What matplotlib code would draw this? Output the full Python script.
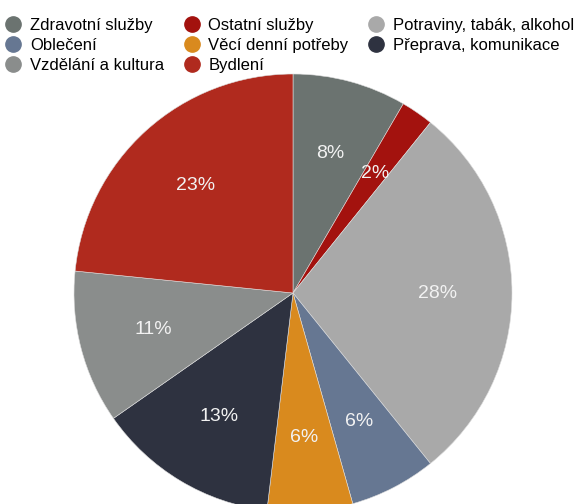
import matplotlib
matplotlib.use("Agg")
import matplotlib.pyplot as plt
from matplotlib.lines import Line2D

# ── Data (shares of household spending, %) ──────────────────────────────────
categories = [
    "Zdravotní služby", "Ostatní služby", "Potraviny, tabák, alkohol",
    "Oblečení", "Věcí denní potřeby", "Přeprava, komunikace",
    "Vzdělání a kultura", "Bydlení",
]
shares = [8.4, 2.4, 28.4, 6.4, 6.3, 13.4, 11.3, 23.4]
colours = ["#6b7370", "#a3120e", "#a9a9a9", "#667792",
           "#d98a1e", "#2e3240", "#8a8d8c", "#b02a1e"]

# legend order as it reads row by row (matplotlib fills column-wise)
legend_order = [0, 3, 6, 1, 4, 7, 2, 5]

plt.rcParams["font.family"] = ["Liberation Sans", "DejaVu Sans"]

W, H = 578, 504
fig = plt.figure(figsize=(W / 100, H / 100), dpi=100)

# pie centred at (293, 293) px with radius 219 px
cx, cy, r = 293, 293, 219
ax = fig.add_axes([(cx - r) / W, (H - cy - r) / H, 2 * r / W, 2 * r / H])
ax.pie(shares, colors=colours, startangle=90, counterclock=False,
       autopct=lambda p: f"{p:.0f}%", pctdistance=0.66, radius=1.0,
       wedgeprops={"linewidth": 0.4, "edgecolor": "#dddddd"},
       textprops={"color": "#f2f2f2", "fontsize": 14})
ax.set_xlim(-1, 1)
ax.set_ylim(-1, 1)
ax.set_aspect("auto")
ax.axis("off")

handles = [Line2D([], [], linestyle="none", marker="o", markersize=11,
                  markerfacecolor=colours[i], markeredgecolor=colours[i])
           for i in legend_order]
labels = [categories[i] for i in legend_order]
fig.legend(handles, labels, ncol=3, loc="upper left",
           bbox_to_anchor=(0.0, 0.975), frameon=False, fontsize=12,
           handlelength=1.0, handletextpad=0.5, columnspacing=1.15,
           labelspacing=0.3, borderpad=0.3, borderaxespad=0.0)

fig.savefig("out.png", dpi=100)
